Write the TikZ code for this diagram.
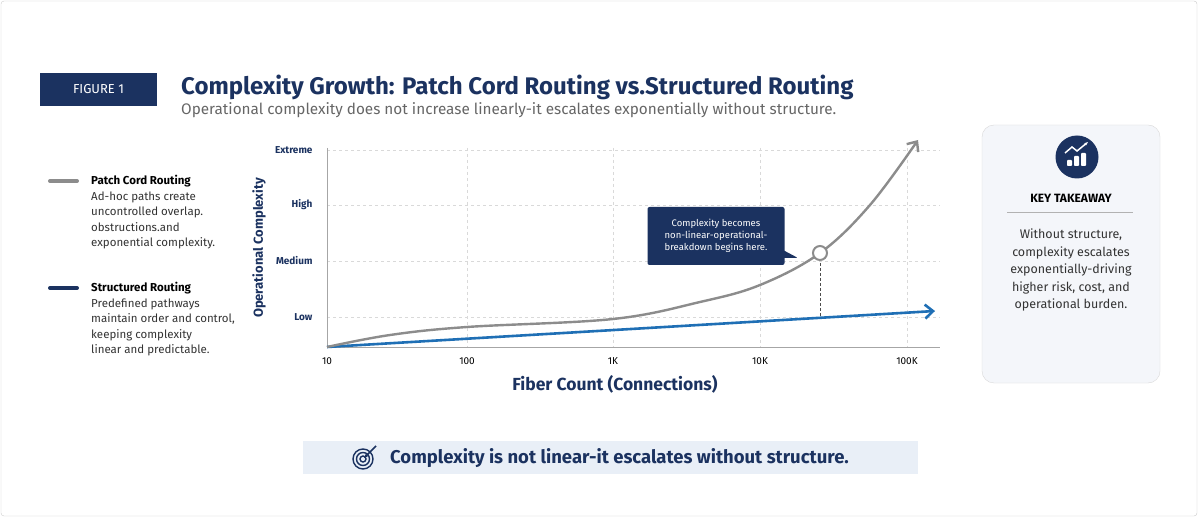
\documentclass[tikz,border=0pt]{standalone}
\usepackage{fontspec}
\setmainfont{Fira Sans}
\usetikzlibrary{arrows.meta,positioning,shapes.callouts}
\definecolor{navy}{HTML}{1B3260}
\definecolor{curvegray}{HTML}{8C8C8C}
\definecolor{lineblue}{HTML}{1F6FB5}
\definecolor{cardfill}{HTML}{F4F6FA}
\definecolor{bannerfill}{HTML}{E9EFF7}
\definecolor{txt}{HTML}{333333}
\tikzset{
  grid line/.style={draw=black!15,dash pattern=on 3pt off 3pt,line width=0.7pt},
  tick label/.style={font=\fontsize{10}{12}\selectfont,text=black},
  level label/.style={font=\fontsize{10}{12}\selectfont\bfseries,text=navy,anchor=east},
  legend head/.style={font=\fontsize{11.5}{13}\selectfont\bfseries,text=black,anchor=north west,inner sep=0pt},
  legend body/.style={font=\fontsize{11.5}{15.5}\selectfont,text=txt,align=left,inner sep=0pt}
}
\begin{document}
\begin{tikzpicture}[x=1pt,y=-1pt]
\useasboundingbox (0,0) rectangle (1199,518);
\draw[black!20,fill=white,rounded corners=3pt] (1,1) rectangle (1197,516);
% header
\node[fill=navy,text=white,minimum width=117pt,minimum height=33pt,font=\fontsize{13}{15}\selectfont] (fig) at (98.5,89.5) {FIGURE 1};
\node[anchor=west,inner sep=0pt,text=navy,font=\fontsize{24}{26}\selectfont\bfseries] (title) at (181,87) {Complexity Growth: Patch Cord Routing vs.Structured Routing};
\node[anchor=west,inner sep=0pt,text=black!60,font=\fontsize{15.3}{17}\selectfont] (sub) at (181,110) {Operational complexity does not increase linearly-it escalates exponentially without structure.};
% legend
\draw[curvegray,line width=4pt,line cap=round] (50,181) -- (77,181);
\node[legend head] (lgA) at (91,175) {Patch Cord Routing};
\node[legend body,below=4pt of lgA.south west,anchor=north west] {Ad-hoc paths create\\uncontrolled overlap.\\obstructions.and\\exponential complexity.};
\draw[navy,line width=4pt,line cap=round] (50,288) -- (77,288);
\node[legend head] (lgB) at (91,282) {Structured Routing};
\node[legend body,below=4pt of lgB.south west,anchor=north west] {Predefined pathways\\maintain order and control,\\keeping complexity\\linear and predictable.};
% grid
\foreach \x in {467,613,760,907} \draw[grid line] (\x,148) -- (\x,347);
\foreach \y in {150,205,261,317} \draw[grid line] (327,\y) -- (940,\y);
\draw[black!35,line width=0.8pt] (327,148) -- (327,347) -- (940,347);
\foreach \x/\t in {327/10,467/100,613/1K,760/10K,907/100K} \node[tick label] at (\x,361) {\t};
\foreach \y/\t in {150/Extreme,205/High,261/Medium,317/Low} \node[level label] at (316,\y) {\t};
\node[rotate=90,text=navy,font=\fontsize{13}{15}\selectfont\bfseries] (ylab) at (259,248) {Operational Complexity};
\node[text=navy,font=\fontsize{17.5}{19}\selectfont\bfseries] (xlab) at (615,384) {Fiber Count (Connections)};
% curves
\coordinate (o) at (327,347);
\draw[lineblue,line width=2.6pt,-{Straight Barb[length=8pt,width=14pt]}] (o) -- (935,311);
\draw[curvegray,line width=2.4pt,-{Straight Barb[length=8pt,width=14pt]}] plot[smooth,tension=0.6] coordinates {(327,347) (390,335) (467,327) (613,319) (700,302) (760,285) (820,253) (870,205) (918,140)};
\coordinate (knee) at (820,253);
\draw[black!70,dash pattern=on 3pt off 2pt,line width=1pt] (knee) -- (820,317);
\node[circle,draw=curvegray,fill=white,line width=2pt,minimum size=14pt,inner sep=0pt] (ring) at (knee) {};
\node[rectangle callout,fill=navy,text=white,rounded corners=2pt,align=center,minimum width=137pt,minimum height=58pt,
  font=\fontsize{9.5}{12}\selectfont,callout absolute pointer={(798,258)}] (note) at (716,236) {Complexity becomes\\non-linear-operational-\\breakdown begins here.};
% takeaway card
\draw[black!15,fill=cardfill,rounded corners=12pt] (982,125) rectangle (1160,383);
\node[circle,fill=navy,minimum size=43pt,inner sep=0pt] (icon) at (1077,157) {};
\foreach \i/\h in {0/6,1/10,2/13} \fill[white,rounded corners=0.8pt] (1067+\i*7,166) rectangle ++(5,-\h);
\draw[white,line width=1.5pt,-{Stealth[length=4pt]}] (1065,153) -- (1072,147) -- (1077,151) -- (1088,142);
\node[font=\fontsize{12}{14}\selectfont\bfseries,text=black] (kt) at (1071,198) {KEY TAKEAWAY};
\draw[black!30,line width=0.8pt] (1007,212) -- (1133,212);
\node[align=center,text=txt,font=\fontsize{12.5}{17.5}\selectfont,below=20pt of kt] (ktxt) {Without structure,\\complexity escalates\\exponentially-driving\\higher risk, cost, and\\operational burden.};
% banner
\fill[bannerfill] (303,441) rectangle (918,474);
\foreach \r in {10,6.5,3} \draw[navy,line width=1.4pt] (363,459) circle (\r);
\draw[navy,line width=1.6pt,-{Stealth[length=4pt]}] (376,446) -- (364,458);
\node[anchor=west,inner sep=0pt,text=navy,font=\fontsize{18.5}{20}\selectfont\bfseries] (ban) at (390,458) {Complexity is not linear-it escalates without structure.};
\end{tikzpicture}
\end{document}
